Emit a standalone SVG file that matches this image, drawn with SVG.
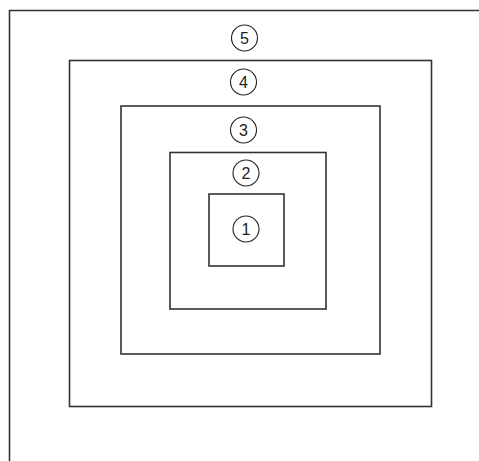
<svg xmlns="http://www.w3.org/2000/svg" width="479" height="461" viewBox="0 0 479 461">
<style>
.b{fill:none;stroke:#333;stroke-width:1.6}
.c{fill:none;stroke:#222;stroke-width:1.1}
.t{font-family:"Liberation Sans",Arial,sans-serif;font-size:16px;fill:#222;text-anchor:middle}
</style>
<rect width="479" height="461" fill="#fff"/>
<g id="frame"><path class="b" d="M9.5,461 V10.5 H479"/></g>
<g id="box4"><rect class="b" x="69.5" y="60.5" width="362" height="346"/></g>
<g id="box3"><rect class="b" x="121" y="106" width="259" height="248"/></g>
<g id="box2"><rect class="b" x="170" y="152.5" width="156" height="156.5"/></g>
<g id="box1"><rect class="b" x="209" y="194" width="75" height="72"/></g>
<g id="label5"><circle class="c" cx="244.5" cy="38" r="13"/><text class="t" x="244.5" y="44">5</text></g>
<g id="label4"><circle class="c" cx="243.5" cy="82" r="13"/><text class="t" x="243.5" y="88">4</text></g>
<g id="label3"><circle class="c" cx="243.5" cy="130" r="13"/><text class="t" x="243.5" y="136">3</text></g>
<g id="label2"><circle class="c" cx="246" cy="173" r="13"/><text class="t" x="246" y="179">2</text></g>
<g id="label1"><circle class="c" cx="246" cy="229" r="13"/><text class="t" x="246" y="235">1</text></g>
<g id="connectors"></g>
</svg>
